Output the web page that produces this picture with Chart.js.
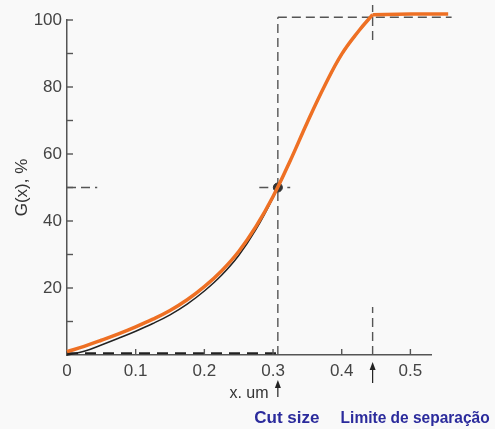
<!DOCTYPE html>
<html>
<head>
<meta charset="utf-8">
<script src="https://cdn.jsdelivr.net/npm/chart.js@4.4.1/dist/chart.umd.min.js"></script>
<style>
    body { margin: 0; background: #f9f9f9; }
    #wrap { width: 495px; height: 429px; }
</style>
</head>
<body>
<div id="wrap"><canvas id="gChart" width="495" height="429"></canvas></div>
<script>
    // Courbe G(x) orange
    const orangeX = [0, 0.025, 0.05, 0.075, 0.1, 0.125, 0.15, 0.175, 0.2, 0.225, 0.25, 0.275, 0.3, 0.325, 0.35, 0.375, 0.4, 0.425, 0.445];
    const orangeY = [1.0, 2.6, 4.4, 6.3, 8.4, 10.7, 13.3, 16.5, 20.4, 25.1, 30.9, 38.3, 47.3, 58.0, 69.5, 80.3, 89.8, 96.8, 101.6];
    // Palier à 100 % après la limite de séparation
    const plateauX = [0.445, 0.5, 0.555];
    const plateauY = [101.6, 101.8, 101.8];

    // Courbe noire d'origine
    const blackX = [0, 0.025, 0.05, 0.075, 0.1, 0.125, 0.15, 0.175, 0.2, 0.225, 0.25, 0.275, 0.3, 0.325, 0.35, 0.375, 0.4, 0.425, 0.445];
    const blackY = [0, 1.1, 3.0, 5.0, 7.1, 9.4, 12.0, 15.2, 19.1, 23.8, 29.7, 37.4, 46.9, 57.8, 69.3, 80.1, 89.6, 96.6, 101.5];

    const cutSize = 0.307;
    const sepLimit = 0.445;
    const cutLevel = 50;
    const topLevel = 100.8;

    // Lignes pointillées [x1, y1, x2, y2]
    const guideLines = [
        [0, cutLevel, 0.044, cutLevel],
        [0.28, cutLevel, 0.325, cutLevel],
        [cutSize, 0, cutSize, topLevel],
        [cutSize, topLevel, 0.56, topLevel],
        [sepLimit, 94, sepLimit, 104.5],
        [sepLimit, 0, sepLimit, 14.3]
    ];
    const baseDash = [0, 0.5, 0.31, 0.5];

    const xTicks = [0, 0.1, 0.2, 0.3, 0.4, 0.5];
    const yLabels = [20, 40, 60, 80, 100];

    const toPts = (xs, ys) => xs.map((x, i) => ({ x: x, y: ys[i] }));

    const orange = '#ee7024';
    const datasets = [{
        data: toPts(orangeX, orangeY),
        borderColor: orange,
        borderWidth: 3.5,
        pointRadius: 0,
        tension: 0.4,
        clip: false
    }, {
        data: toPts(plateauX, plateauY),
        borderColor: orange,
        borderWidth: 3.5,
        pointRadius: 0,
        clip: false
    }, {
        data: [{ x: cutSize, y: cutLevel }],
        backgroundColor: '#333',
        borderColor: '#333',
        pointRadius: 4.5,
        showLine: false,
        clip: false
    }, {
        data: toPts(blackX, blackY),
        borderColor: '#222',
        borderWidth: 1.5,
        pointRadius: 0,
        tension: 0.4,
        clip: false
    }];

    guideLines.forEach(g => {
        datasets.push({
            data: [{ x: g[0], y: g[1] }, { x: g[2], y: g[3] }],
            borderColor: '#555',
            borderWidth: 1.4,
            borderDash: [9, 5],
            pointRadius: 0,
            clip: false
        });
    });
    datasets.push({
        data: [{ x: baseDash[0], y: baseDash[1] }, { x: baseDash[2], y: baseDash[3] }],
        borderColor: '#222',
        borderWidth: 2,
        borderDash: [11, 7],
        pointRadius: 0,
        clip: false
    });

    // Petits traits de graduation vers l'intérieur, flèches et légendes bleues
    const extras = {
        id: 'extras',
        afterDraw(chart) {
            const ctx = chart.ctx;
            const xs = chart.scales.x, ys = chart.scales.y;
            const area = chart.chartArea;
            ctx.save();
            ctx.strokeStyle = '#555';
            ctx.lineWidth = 1.4;
            ys.ticks.forEach(t => {
                if (t.value <= 0) return;
                const py = ys.getPixelForValue(t.value);
                ctx.beginPath();
                ctx.moveTo(area.left, py);
                ctx.lineTo(area.left + 6, py);
                ctx.stroke();
            });
            xTicks.forEach(v => {
                if (v === 0) return;
                const px = xs.getPixelForValue(v);
                ctx.beginPath();
                ctx.moveTo(px, area.bottom);
                ctx.lineTo(px, area.bottom - 6);
                ctx.stroke();
            });

            function arrow(px, tip, tail) {
                ctx.strokeStyle = '#222';
                ctx.fillStyle = '#222';
                ctx.lineWidth = 1.2;
                ctx.beginPath();
                ctx.moveTo(px, tail);
                ctx.lineTo(px, tip + 6);
                ctx.stroke();
                ctx.beginPath();
                ctx.moveTo(px, tip);
                ctx.lineTo(px - 3, tip + 8);
                ctx.lineTo(px + 3, tip + 8);
                ctx.closePath();
                ctx.fill();
            }
            const cutPx = xs.getPixelForValue(cutSize);
            const sepPx = xs.getPixelForValue(sepLimit);
            arrow(cutPx, area.bottom + 25, area.bottom + 42);
            arrow(sepPx, area.bottom + 7, area.bottom + 28);

            ctx.fillStyle = '#2b2b9c';
            ctx.font = 'bold 17px "Liberation Sans", Arial, sans-serif';
            ctx.textBaseline = 'middle';
            ctx.textAlign = 'center';
            ctx.fillText('Cut size', cutPx + 9, area.bottom + 63);
            ctx.textAlign = 'left';
            ctx.fillText('Limite de separação', sepPx - 32, area.bottom + 63, 149);
            ctx.restore();
        }
    };

    const tickFont = { family: '"Liberation Sans", Arial, sans-serif', size: 17 };

    new Chart(document.getElementById('gChart'), {
        type: 'scatter',
        data: { datasets: datasets },
        options: {
            responsive: false,
            animation: false,
            showLine: true,
            layout: { padding: { top: 20, right: 64, left: 0, bottom: 0 } },
            plugins: { legend: { display: false }, tooltip: { enabled: false } },
            scales: {
                x: {
                    type: 'linear',
                    min: 0,
                    max: 0.53,
                    afterFit: s => { s.height = 74; },
                    grid: { display: true, drawOnChartArea: false, drawTicks: false },
                    border: { color: '#555', width: 1.5 },
                    ticks: {
                        stepSize: 0.1,
                        includeBounds: false,
                        padding: 6,
                        color: '#444',
                        font: tickFont,
                        callback: v => xTicks.some(t => Math.abs(t - v) < 1e-6) ? (v === 0 ? '0' : v.toFixed(1)) : ''
                    },
                    title: {
                        display: true,
                        text: 'x. um',
                        color: '#333',
                        font: { family: '"Liberation Sans", Arial, sans-serif', size: 16 },
                        padding: { top: 0, bottom: 26 }
                    }
                },
                y: {
                    type: 'linear',
                    min: 0,
                    max: 100,
                    afterFit: s => { s.width = 67; },
                    grid: { display: true, drawOnChartArea: false, drawTicks: false },
                    border: { color: '#555', width: 1.5 },
                    ticks: {
                        stepSize: 10,
                        padding: 5,
                        color: '#444',
                        font: tickFont,
                        callback: v => yLabels.includes(v) ? String(v) : ''
                    },
                    title: {
                        display: true,
                        text: 'G(x), %',
                        color: '#333',
                        font: { family: '"Liberation Sans", Arial, sans-serif', size: 17 },
                        padding: { top: 12, bottom: 0 }
                    }
                }
            }
        },
        plugins: [extras]
    });
</script>
</body>
</html>
